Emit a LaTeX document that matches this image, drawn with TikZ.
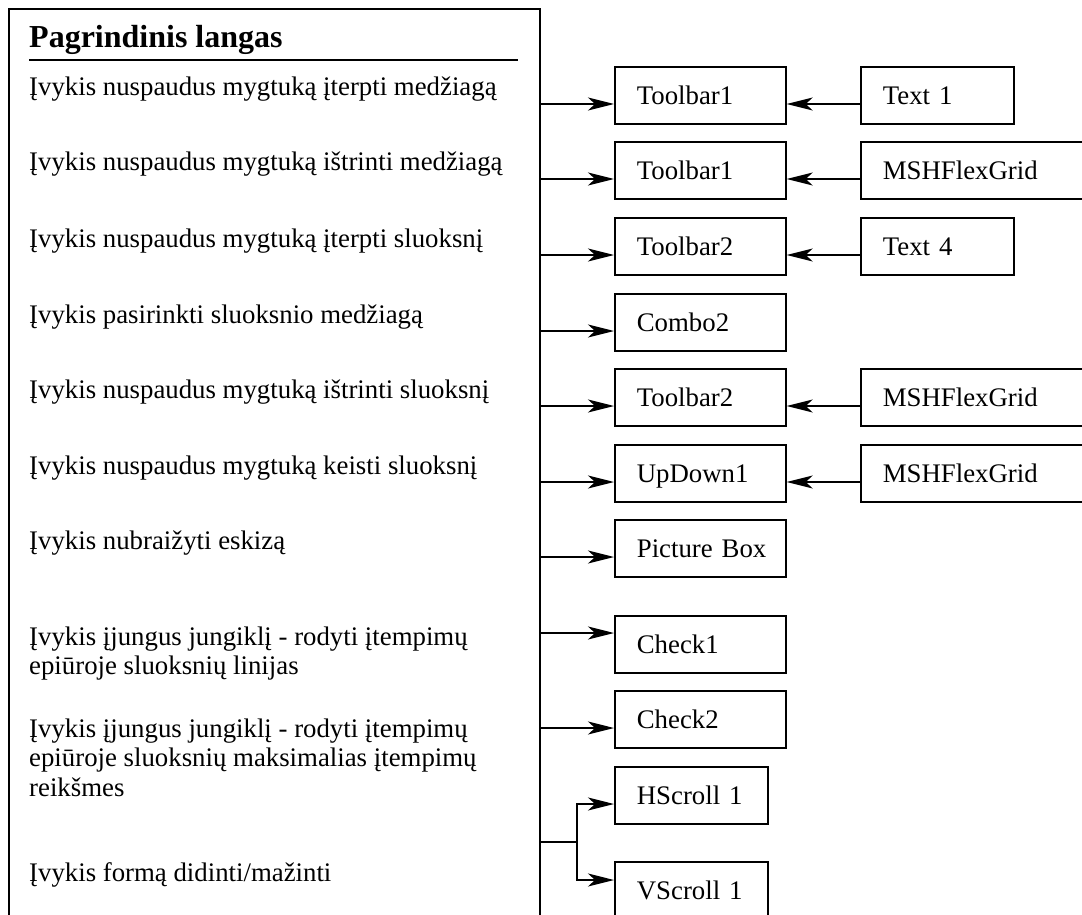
\documentclass[tikz,border=0pt]{standalone}
\usepackage{fontspec}
\setmainfont{Liberation Serif}
\usetikzlibrary{arrows.meta,calc}
\begin{document}
\begin{tikzpicture}[x=1pt,y=-1pt,
  txt/.style={font=\fontsize{26.8}{29.5}\selectfont},
  box/.style={txt, draw, line width=1.7pt, anchor=north west, minimum height=57pt,
    inner xsep=22pt, inner ysep=0pt, text height=18pt, text depth=0pt, align=left, text width=127pt},
  narrowbox/.style={box, text width=109pt},
  widebox/.style={box, text width=220pt},
  evt/.style={txt, anchor=base west, inner sep=0pt},
  conn/.style={line width=1.7pt},
  arr/.style={conn, -{Stealth[length=26pt,width=13pt,inset=7pt]}}]
\useasboundingbox (0,0) rectangle (1082,915);
% main panel
\node[draw, line width=1.8pt, anchor=north west, minimum width=531pt, minimum height=940pt, inner sep=0pt] (main) at (8,8) {};
\node[anchor=base west, inner sep=0pt, font=\bfseries\fontsize{32}{36}\selectfont] (title) at (29,48) {Pagrindinis langas};
\draw[line width=2.2pt] ($(title.base west)+(0,12)$) -- ++(489,0);
% event texts
\node[evt] (e1) at (29,96) {\begin{tabular}[t]{@{}l@{}}Įvykis nuspaudus mygtuką įterpti medžiagą\end{tabular}};
\node[evt] (e2) at (29,171) {\begin{tabular}[t]{@{}l@{}}Įvykis nuspaudus mygtuką ištrinti medžiagą\end{tabular}};
\node[evt] (e3) at (29,247) {\begin{tabular}[t]{@{}l@{}}Įvykis nuspaudus mygtuką įterpti sluoksnį\end{tabular}};
\node[evt] (e4) at (29,323) {\begin{tabular}[t]{@{}l@{}}Įvykis pasirinkti sluoksnio medžiagą\end{tabular}};
\node[evt] (e5) at (29,398) {\begin{tabular}[t]{@{}l@{}}Įvykis nuspaudus mygtuką ištrinti sluoksnį\end{tabular}};
\node[evt] (e6) at (29,474) {\begin{tabular}[t]{@{}l@{}}Įvykis nuspaudus mygtuką keisti sluoksnį\end{tabular}};
\node[evt] (e7) at (29,549) {\begin{tabular}[t]{@{}l@{}}Įvykis nubraižyti eskizą\end{tabular}};
\node[evt] (e8) at (29,645) {\begin{tabular}[t]{@{}l@{}}Įvykis įjungus jungiklį - rodyti įtempimų\\epiūroje sluoksnių linijas\end{tabular}};
\node[evt] (e9) at (29,737) {\begin{tabular}[t]{@{}l@{}}Įvykis įjungus jungiklį - rodyti įtempimų\\epiūroje sluoksnių maksimalias įtempimų\\reikšmes\end{tabular}};
\node[evt] (e10) at (29,881) {\begin{tabular}[t]{@{}l@{}}Įvykis formą didinti/mažinti\end{tabular}};
% control boxes
\node[box] (b1) at (614,66) {\mbox{Toolbar1}};
\node[box] (b2) at (614,141) {\mbox{Toolbar1}};
\node[box] (b3) at (614,217) {\mbox{Toolbar2}};
\node[box] (b4) at (614,293) {\mbox{Combo2}};
\node[box] (b5) at (614,368) {\mbox{Toolbar2}};
\node[box] (b6) at (614,444) {\mbox{UpDown1}};
\node[box] (b7) at (614,519) {\mbox{Picture Box}};
\node[box] (b8) at (614,615) {\mbox{Check1}};
\node[box] (b9) at (614,690) {\mbox{Check2}};
\node[narrowbox] (hs) at (614,766) {\mbox{HScroll 1}};
\node[narrowbox] (vs) at (614,861) {\mbox{VScroll 1}};
% data boxes
\node[narrowbox] (r1) at (860,66) {\mbox{Text 1}};
\node[widebox] (r2) at (860,141) {\mbox{MSHFlexGrid}};
\node[narrowbox] (r3) at (860,217) {\mbox{Text 4}};
\node[widebox] (r5) at (860,368) {\mbox{MSHFlexGrid}};
\node[widebox] (r6) at (860,444) {\mbox{MSHFlexGrid}};
% connector points on the panel edge
\coordinate (p1) at (539,104);
\coordinate (p2) at (539,179);
\coordinate (p3) at (539,255);
\coordinate (p4) at (539,331);
\coordinate (p5) at (539,406);
\coordinate (p6) at (539,482);
\coordinate (p7) at (539,557);
\coordinate (p8) at (539,633);
\coordinate (p9) at (539,728);
\coordinate (p10) at (539,842);
\coordinate (j) at (577,842);
\coordinate (jh) at (577,804);
\coordinate (jv) at (577,880);
\draw[arr] (p1) -- (p1 -| b1.west);
\draw[arr] (p2) -- (p2 -| b2.west);
\draw[arr] (p3) -- (p3 -| b3.west);
\draw[arr] (p4) -- (p4 -| b4.west);
\draw[arr] (p5) -- (p5 -| b5.west);
\draw[arr] (p6) -- (p6 -| b6.west);
\draw[arr] (p7) -- (p7 -| b7.west);
\draw[arr] (p8) -- (p8 -| b8.west);
\draw[arr] (p9) -- (p9 -| b9.west);
\draw[conn] (p10) -- (j);
\draw[arr] (j) -- (jh) -- (jh -| hs.west);
\draw[arr] (j) -- (jv) -- (jv -| vs.west);
\draw[arr] (p1 -| r1.west) -- (p1 -| b1.east);
\draw[arr] (p2 -| r2.west) -- (p2 -| b2.east);
\draw[arr] (p3 -| r3.west) -- (p3 -| b3.east);
\draw[arr] (p5 -| r5.west) -- (p5 -| b5.east);
\draw[arr] (p6 -| r6.west) -- (p6 -| b6.east);
\end{tikzpicture}
\end{document}
